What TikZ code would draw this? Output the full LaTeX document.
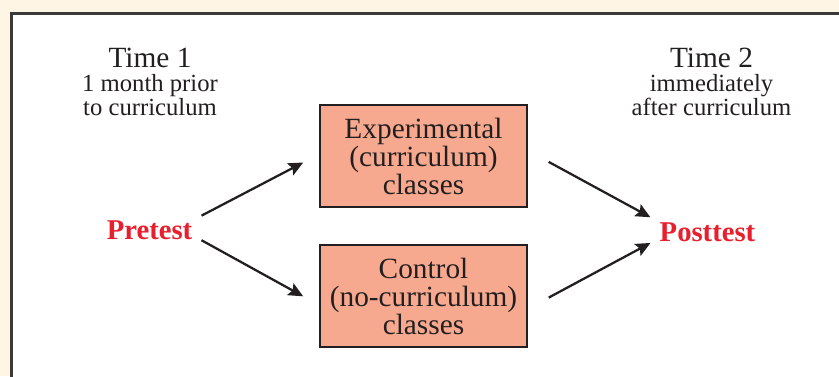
\documentclass[tikz,border=0pt]{standalone}
\usepackage{fontspec}
\setmainfont{Liberation Serif}
\usetikzlibrary{arrows.meta}
\definecolor{paper}{HTML}{FEF5E4}
\definecolor{frameline}{HTML}{3A3A3A}
\definecolor{salmon}{HTML}{F7A98F}
\definecolor{testred}{HTML}{E8202E}
\definecolor{ink}{HTML}{231F20}
\tikzset{
  group/.style={draw=ink,line width=1.5pt,fill=salmon,text=ink,align=center,
    minimum width=155pt,minimum height=77pt,inner sep=0pt,font=\fontsize{22}{21}\selectfont},
  test/.style={text=testred,inner sep=3pt,font=\fontsize{21.5}{24}\selectfont\bfseries},
  timehead/.style={text=ink,inner sep=0pt,font=\fontsize{22}{24}\selectfont},
  timenote/.style={text=ink,inner sep=0pt,align=center,font=\fontsize{18.5}{16.5}\selectfont},
  link/.style={-{Stealth[length=11pt,width=10pt,inset=2pt]},line width=1.7pt,draw=ink},
}
\begin{document}
\begin{tikzpicture}[x=0.75pt,y=-0.75pt]
			\useasboundingbox (0,0) rectangle (839,376);
			\fill[paper] (0,0) rectangle (839,376);
			\clip (0,0) rectangle (839,376);
			\draw[frameline,line width=2pt,fill=white] (11.5,13.5) rectangle (860,400);
			
			\node[timehead,anchor=base] (TimeOne) at (150,67.5) {Time 1};
			\node[timenote,anchor=north] (WhenOne) at (150,74) {1 month prior\\to curriculum};
			\node[timehead,anchor=base] (TimeTwo) at (711.5,67.5) {Time 2};
			\node[timenote,anchor=north] (WhenTwo) at (711.5,74) {immediately\\after curriculum};
			
			\node[test] (Pretest) at (149.5,230) {Pretest};
			\node[test] (Posttest) at (707.5,232) {Posttest};
			\node[group] (Experimental) at (423.5,156) {Experimental\\(curriculum)\\classes};
			\node[group] (Control) at (423.5,296) {Control\\(no-curriculum)\\classes};
			
			\draw[link,shorten <=4.3pt,shorten >=13.5pt] (Pretest.14) -- (Experimental.179);
			\draw[link,shorten <=4.3pt,shorten >=13.7pt] (Pretest.-9) -- (Control.185);
			\draw[link,shorten <=17.8pt,shorten >=4.3pt] (Experimental.3) -- (Posttest.167);
			\draw[link,shorten <=17.8pt,shorten >=4.3pt] (Control.-7) -- (Posttest.189);
\end{tikzpicture}
\end{document}
